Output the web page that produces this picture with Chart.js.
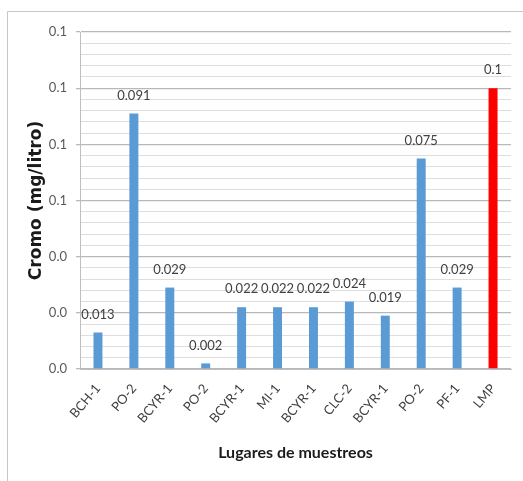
<!DOCTYPE html>
<html>
<head>
<meta charset="utf-8">
<script src="https://cdn.jsdelivr.net/npm/chart.js@4/dist/chart.umd.min.js"></script>
<style>
  html, body { margin: 0; padding: 0; background: #ffffff; }
  canvas { display: block; }
</style>
</head>
<body>
<canvas id="chart" width="523" height="481"></canvas>
<script>
// Sampling sites and chromium concentration (mg/L); the last bar is the limit (LMP)
const sites = ['BCH-1', 'PO-2', 'BCYR-1', 'PO-2', 'BCYR-1', 'MI-1', 'BCYR-1', 'CLC-2', 'BCYR-1', 'PO-2', 'PF-1', 'LMP'];
const cromo = [0.013, 0.091, 0.029, 0.002, 0.022, 0.022, 0.022, 0.024, 0.019, 0.075, 0.029, 0.1];
const barColors = ['#5B9BD5', '#5B9BD5', '#5B9BD5', '#5B9BD5', '#5B9BD5', '#5B9BD5', '#5B9BD5', '#5B9BD5', '#5B9BD5', '#5B9BD5', '#5B9BD5', '#FF0000'];
const yMax = 0.12;
const yMinorStep = 0.004;
const yMajorEvery = 5;

const isMajor = v => Math.round(v / yMinorStep) % yMajorEvery === 0;

// Light frame along the top and left edges of the chart box
const framePlugin = {
  id: 'frame',
  beforeDraw(chart) {
    const ctx = chart.ctx;
    ctx.save();
    ctx.strokeStyle = '#c6c6c6';
    ctx.lineWidth = 1;
    ctx.beginPath();
    ctx.moveTo(7.5, chart.height);
    ctx.lineTo(7.5, 11.5);
    ctx.lineTo(chart.width, 11.5);
    ctx.stroke();
    ctx.restore();
  }
};

// Value printed above each bar
const valueLabels = {
  id: 'valueLabels',
  afterDatasetsDraw(chart) {
    const ctx = chart.ctx;
    const meta = chart.getDatasetMeta(0);
    const data = chart.data.datasets[0].data;
    ctx.save();
    ctx.font = '13px Lato';
    ctx.fillStyle = '#404040';
    ctx.textAlign = 'center';
    ctx.textBaseline = 'middle';
    meta.data.forEach((bar, i) => {
      ctx.fillText(String(data[i]), bar.x, bar.y - 18);
    });
    ctx.restore();
  }
};

new Chart(document.getElementById('chart'), {
  type: 'bar',
  data: {
    labels: sites,
    datasets: [{
      data: cromo,
      backgroundColor: barColors,
      borderWidth: 0,
      categoryPercentage: 1,
      barPercentage: 0.25
    }]
  },
  options: {
    responsive: false,
    animation: false,
    layout: { padding: { left: 0, right: 12, top: 32, bottom: 0 } },
    plugins: {
      legend: { display: false },
      tooltip: { enabled: false }
    },
    scales: {
      x: {
        grid: { display: false },
        border: { display: true, color: '#bfbfbf', width: 1 },
        ticks: {
          autoSkip: false,
          maxRotation: 50,
          minRotation: 50,
          padding: 4,
          color: '#404040',
          font: { family: 'Lato', size: 13 }
        },
        title: {
          display: true,
          text: 'Lugares de muestreos',
          color: '#1a1a1a',
          font: { family: 'Lato', size: 16, weight: 'bold' },
          padding: { top: 0, bottom: 19 }
        },
        afterFit(scale) { scale.height = 112; }
      },
      y: {
        min: 0,
        max: yMax,
        border: { display: true, color: '#bfbfbf', width: 1 },
        grid: {
          color: c => isMajor(c.tick.value) ? '#b8b8b8' : '#dedede',
          tickColor: c => isMajor(c.tick.value) ? '#b8b8b8' : 'rgba(0,0,0,0)',
          tickLength: 4,
          lineWidth: c => isMajor(c.tick.value) ? 1.3 : 1
        },
        ticks: {
          stepSize: yMinorStep,
          autoSkip: false,
          padding: 9,
          color: '#595959',
          font: { family: 'Lato', size: 13 },
          callback: v => isMajor(v) ? v.toFixed(1) : ''
        },
        title: {
          display: true,
          text: 'Cromo (mg/litro)',
          color: '#1a1a1a',
          font: { family: 'DejaVu Sans', size: 17, weight: 'bold' },
          padding: { top: 26, bottom: 0 }
        },
        afterFit(scale) { scale.width = 80; }
      }
    }
  },
  plugins: [framePlugin, valueLabels]
});
</script>
</body>
</html>
